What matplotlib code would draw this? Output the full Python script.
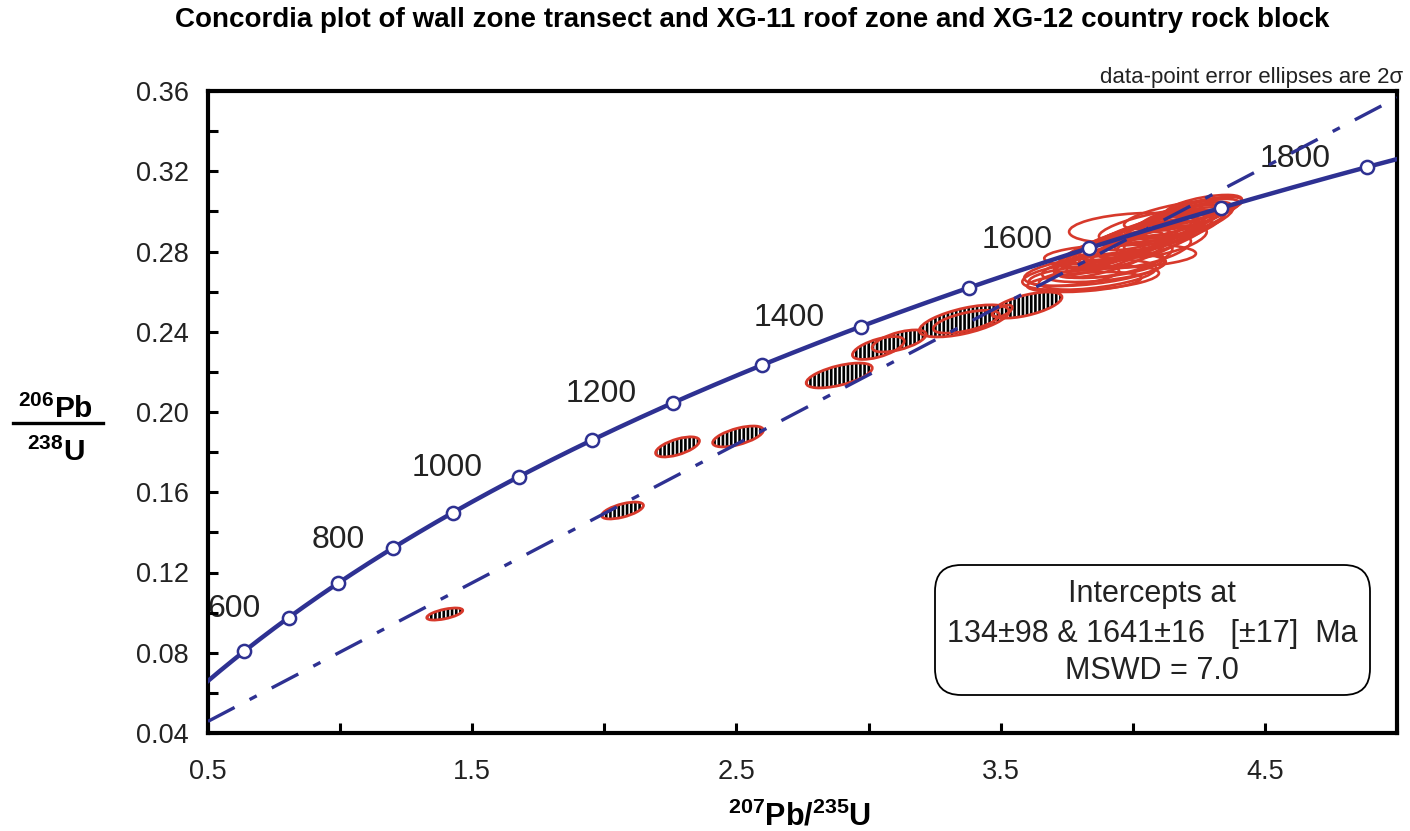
import numpy as np
import matplotlib
matplotlib.use('Agg')
import matplotlib.pyplot as plt
from matplotlib.patches import Circle, FancyBboxPatch
from matplotlib.transforms import Affine2D
from matplotlib.ticker import MultipleLocator, FormatStrFormatter

plt.rcParams['font.family'] = ['Liberation Sans', 'DejaVu Sans']
plt.rcParams['mathtext.fontset'] = 'custom'
plt.rcParams['mathtext.rm'] = 'Liberation Sans'
plt.rcParams['mathtext.bf'] = 'Liberation Sans:bold'
plt.rcParams['hatch.linewidth'] = 1.9
plt.rcParams['lines.scale_dashes'] = False

# ---------------- data ----------------
LAMBDA_238 = 1.55125e-4   # 1/Ma
LAMBDA_235 = 9.8485e-4    # 1/Ma
concordia_ages = [500, 600, 700, 800, 900, 1000, 1100, 1200, 1300, 1400,
                  1500, 1600, 1700, 1800]
labeled_ages = [600, 800, 1000, 1200, 1400, 1600, 1800]
intercept_ages = [134, 1641]

# hatched (discordant) ellipses: centre, 2-sigma half extents, correlation
hatched_x = [1.396, 2.069, 2.277, 2.506, 2.889, 3.037, 3.116, 3.362, 3.370, 3.506, 3.600]
hatched_y = [0.0993, 0.1509, 0.1826, 0.1878, 0.2182, 0.2319, 0.2354, 0.2454, 0.2450, 0.2503, 0.2533]
hatched_sx = [0.068, 0.079, 0.083, 0.096, 0.125, 0.098, 0.102, 0.170, 0.125, 0.038, 0.132]
hatched_sy = [0.0030, 0.0042, 0.0050, 0.0052, 0.0062, 0.0057, 0.0055, 0.0080, 0.0057, 0.0030, 0.0065]
hatched_rho = [0.6, 0.6, 0.6, 0.6, 0.6, 0.6, 0.6, 0.6, 0.6, 0.6, 0.6]

# open (near-concordant) ellipses
open_x = [3.835, 3.854, 3.872, 3.816, 3.910, 3.952, 3.891, 3.778, 4.005,
          3.910, 3.948, 3.986, 4.024, 4.061, 4.099, 4.137, 4.175, 4.213,
          4.251, 4.269, 3.967, 4.043, 4.118, 4.194, 4.080, 4.156, 3.872,
          3.930, 4.000, 4.070, 4.140, 4.200, 3.950, 4.030, 4.110]
open_y = [0.2683, 0.2708, 0.2668, 0.2648, 0.2733, 0.2778, 0.2718, 0.2678, 0.2917,
          0.2798, 0.2827, 0.2847, 0.2867, 0.2887, 0.2907, 0.2932, 0.2957, 0.2982,
          0.3007, 0.3027, 0.2807, 0.2842, 0.2877, 0.2932, 0.2932, 0.2982, 0.2758,
          0.2790, 0.2830, 0.2870, 0.2910, 0.2950, 0.2760, 0.2800, 0.2850]
open_sx = [0.253, 0.265, 0.227, 0.216, 0.208, 0.287, 0.234, 0.170, 0.246,
           0.208, 0.227, 0.234, 0.227, 0.234, 0.208, 0.208, 0.197, 0.189,
           0.163, 0.144, 0.170, 0.170, 0.151, 0.151, 0.208, 0.189, 0.170,
           0.220, 0.240, 0.230, 0.210, 0.180, 0.200, 0.190, 0.170]
open_sy = [0.0075, 0.0080, 0.0060, 0.0050, 0.0065, 0.0060, 0.0070, 0.0050, 0.0075,
           0.0100, 0.0110, 0.0110, 0.0110, 0.0110, 0.0100, 0.0100, 0.0090, 0.0080,
           0.0065, 0.0055, 0.0075, 0.0075, 0.0070, 0.0065, 0.0080, 0.0070, 0.0075,
           0.0120, 0.0125, 0.0120, 0.0110, 0.0095, 0.0090, 0.0085, 0.0080]
open_rho = [0.45, 0.5, 0.4, 0.4, 0.5, 0.2, 0.45, 0.5, 0.25,
            0.8, 0.8, 0.8, 0.8, 0.8, 0.8, 0.8, 0.8, 0.75,
            0.7, 0.6, 0.8, 0.8, 0.8, 0.8, 0.7, 0.7, 0.75,
            0.75, 0.75, 0.75, 0.75, 0.7, 0.6, 0.6, 0.6]

x_ticks = [0.5, 1.5, 2.5, 3.5, 4.5]
y_ticks = [0.04, 0.08, 0.12, 0.16, 0.20, 0.24, 0.28, 0.32, 0.36]

title = "Concordia plot of wall zone transect and XG-11 roof zone and XG-12 country rock block"
note = "data-point error ellipses are 2\u03c3"
box_lines = ["Intercepts at", "134\u00b198 & 1641\u00b116   [\u00b117]  Ma", "MSWD = 7.0"]

BLUE = '#2E3192'
RED = '#D7392B'


def ratios(t):
    t = np.asarray(t, dtype=float)
    return np.exp(LAMBDA_235 * t) - 1, np.exp(LAMBDA_238 * t) - 1


W, H = 1410, 831
fig = plt.figure(figsize=(W / 100, H / 100), dpi=100)
ax = fig.add_axes([208 / W, 1 - 733 / H, (1397 - 208) / W, (733 - 91) / H])
ax.set_xlim(0.5, 5.0)
ax.set_ylim(0.04, 0.36)


def ell_transform(cx, cy, sx, sy, rho):
    m = np.array([[sx, 0.0, cx],
                  [rho * sy, sy * np.sqrt(1 - rho ** 2), cy],
                  [0.0, 0.0, 1.0]])
    return Affine2D(m) + ax.transData


for cx, cy, sx, sy, r in zip(hatched_x, hatched_y, hatched_sx, hatched_sy, hatched_rho):
    tr = ell_transform(cx, cy, sx, sy, r)
    ax.add_patch(Circle((0, 0), 1, transform=tr, facecolor='white', edgecolor='black',
                        lw=0, hatch='||||', zorder=2))
    ax.add_patch(Circle((0, 0), 1, transform=tr, fill=False, edgecolor=RED,
                        lw=2.0, zorder=2.1))

for cx, cy, sx, sy, r in zip(open_x, open_y, open_sx, open_sy, open_rho):
    tr = ell_transform(cx, cy, sx, sy, r)
    ax.add_patch(Circle((0, 0), 1, transform=tr, fill=False, edgecolor=RED,
                        lw=1.9, zorder=2.2))

# concordia curve
tt = np.linspace(380, 1950, 600)
cxs, cys = ratios(tt)
ax.plot(cxs, cys, color=BLUE, lw=3.2, zorder=3, solid_capstyle='butt')
mx, my = ratios(concordia_ages)
ax.plot(mx, my, 'o', ms=9.5, mfc='white', mec=BLUE, mew=1.8, zorder=4)

# discordia
ix, iy = ratios(intercept_ages)
ax.axline((ix[0], iy[0]), (ix[1], iy[1]), color=BLUE, lw=2.4,
          dashes=(21.6, 12.2, 5.8, 12.2), zorder=3)

# age labels
for a in labeled_ages:
    lx, ly = ratios(a)
    off = -20 if a < 1000 else -26
    ax.annotate(str(a), (lx, ly), xytext=(off, 6), textcoords='offset points',
                ha='right', va='center', fontsize=23, color='#222222', zorder=1.5)

# axes styling
for s in ax.spines.values():
    s.set_linewidth(3)
ax.set_xticks(x_ticks)
ax.set_yticks(y_ticks)
ax.xaxis.set_minor_locator(MultipleLocator(0.5))
ax.yaxis.set_minor_locator(MultipleLocator(0.02))
ax.yaxis.set_major_formatter(FormatStrFormatter('%.2f'))
ax.xaxis.set_major_formatter(FormatStrFormatter('%.1f'))
ax.tick_params(which='both', direction='in', length=7, width=2.2, top=False, right=False)
ax.tick_params(axis='y', which='major', labelsize=19.5, pad=14, labelcolor='#222222')
ax.tick_params(axis='x', which='major', labelsize=19.5, pad=19, labelcolor='#222222')

# intercept box
asp = (1397 - 208) / (733 - 91)
bx0, bx1 = (935 - 208) / 1189, (1370 - 208) / 1189
by0, by1 = (733 - 695) / 642, (733 - 565) / 642
ax.add_patch(FancyBboxPatch((bx0, by0), bx1 - bx0, by1 - by0,
                            boxstyle='round,pad=0,rounding_size=0.022',
                            mutation_aspect=asp, transform=ax.transAxes,
                            facecolor='white', edgecolor='black', lw=1.3, zorder=5))
for txt, py in zip(box_lines, [594, 634, 671]):
    fig.text(1152 / W, 1 - py / H, txt, ha='center', va='center', fontsize=22,
             color='#222222', zorder=6)

# titles / labels
fig.text(752 / W, 1 - 27 / H, title, ha='center', va='baseline', fontsize=20,
         fontweight='bold', color='black')
fig.text(1403 / W, 1 - 83 / H, note, ha='right', va='baseline', fontsize=16,
         color='#222222')
fig.text(56 / W, 1 - 418 / H, r'$^{\mathbf{206}}\mathbf{Pb}$', ha='center',
         va='baseline', fontsize=21.5)
fig.text(56 / W, 1 - 461 / H, r'$^{\mathbf{238}}\mathbf{U}$', ha='center',
         va='baseline', fontsize=21.5)
fig.add_artist(plt.Line2D([13 / W, 103 / W], [1 - 423 / H, 1 - 423 / H],
                          transform=fig.transFigure, color='black', lw=2.4))
fig.text(800 / W, 1 - 825 / H, r'$^{\mathbf{207}}\mathbf{Pb/}^{\mathbf{235}}\mathbf{U}$',
         ha='center', va='baseline', fontsize=22)

fig.savefig('out.png', dpi=100)
